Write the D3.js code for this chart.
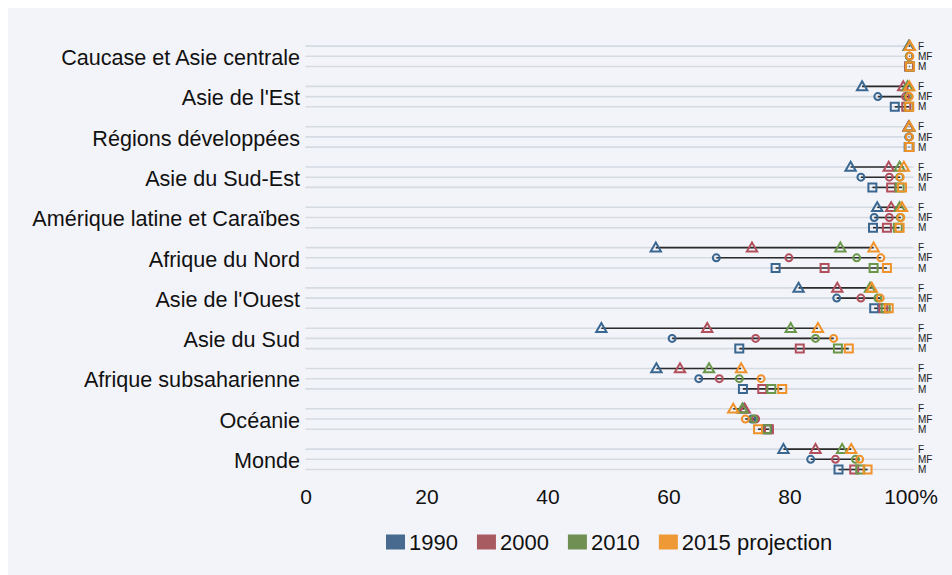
<!DOCTYPE html>
<html>
<head>
<meta charset="utf-8">
<script src="https://cdn.jsdelivr.net/npm/d3@7"></script>
<style>
  body { margin: 0; background: #fff; }
  svg { display: block; font-family: "Liberation Sans", Arial, sans-serif; }
</style>
</head>
<body>
<div id="chart"></div>
<script>
// regions, top to bottom
let regions = [
    "Caucase et Asie centrale",
    "Asie de l'Est",
    "Régions développées",
    "Asie du Sud-Est",
    "Amérique latine et Caraïbes",
    "Afrique du Nord",
    "Asie de l'Ouest",
    "Asie du Sud",
    "Afrique subsaharienne",
    "Océanie",
    "Monde"
]

let sexes = ["F", "MF", "M"]
let years = ["1990", "2000", "2010", "2015 projection"]

// values per region: [F, MF, M] in %
let v1990 = [
    [99.7, 99.8, 99.8], [92.0, 94.6, 97.4], [99.7, 99.7, 99.7], [90.1, 91.8, 93.7],
    [94.5, 94.0, 93.8], [57.9, 67.9, 77.7], [81.5, 87.8, 94.0], [48.9, 60.6, 71.7],
    [58.0, 65.0, 72.3], [72.3, 73.8, 76.3], [79.0, 83.5, 88.1]
]
let v2000 = [
    [99.8, 99.8, 99.8], [98.8, 99.2, 99.3], [99.7, 99.8, 99.8], [96.4, 96.5, 96.8],
    [96.8, 96.5, 96.1], [73.8, 79.9, 85.8], [87.9, 91.8, 95.5], [66.4, 74.4, 81.7],
    [61.9, 68.4, 75.5], [72.6, 74.4, 76.6], [84.3, 87.6, 90.7]
]
let v2010 = [
    [99.8, 99.8, 99.9], [99.5, 99.6, 99.7], [99.8, 99.8, 99.8], [98.2, 98.2, 98.2],
    [98.2, 98.3, 97.9], [88.4, 91.1, 93.9], [93.3, 94.6, 95.9], [80.2, 84.3, 88.0],
    [66.7, 71.7, 77.0], [72.2, 74.1, 76.2], [88.7, 90.9, 91.7]
]
let v2015 = [
    [99.9, 99.9, 99.9], [99.8, 99.8, 99.8], [99.8, 99.8, 99.8], [98.9, 98.3, 98.6],
    [98.6, 98.4, 98.2], [93.9, 95.1, 96.1], [93.6, 95.0, 96.4], [84.7, 87.3, 89.8],
    [72.0, 75.3, 78.8], [70.7, 72.7, 74.8], [90.2, 91.6, 92.9]
]

let tickValues = [0, 20, 40, 60, 80, 100]

let colors = ["#3a6791", "#b14f5c", "#6a9749", "#f0922a"]
let legendColors = ["#476a8e", "#a85c62", "#6f8f53", "#ee9935"]

let width = 952
let height = 575

let svg = d3.select("#chart").append("svg")
    .attr("width", width)
    .attr("height", height)

// panel background
svg.append("rect")
    .attr("x", 8).attr("y", 8)
    .attr("width", width - 8).attr("height", height - 8)
    .attr("fill", "#f3f4f9")

let xScale = d3.scaleLinear().domain([0, 100]).range([305.5, 910.5])
let yScale = d3.scalePoint().domain(regions).range([56.3, 459.3])
let rowOffset = d3.scaleOrdinal().domain(sexes).range([-10.2, 0, 10.2])

let allYears = [v1990, v2000, v2010, v2015]

// flat list of rows
let rows = []
regions.forEach((r, i) => {
    sexes.forEach((s, j) => {
        rows.push({
            region: r,
            sex: s,
            y: yScale(r) + rowOffset(s),
            values: allYears.map(v => v[i][j])
        })
    })
})

// gridlines
svg.append("g").selectAll("line")
    .data(rows)
    .join("line")
    .attr("x1", xScale(0))
    .attr("x2", xScale(100) + 3)
    .attr("y1", d => d.y)
    .attr("y2", d => d.y)
    .attr("stroke", "#d5dbe3")
    .attr("stroke-width", 1.6)

// range lines
svg.append("g").selectAll("line")
    .data(rows)
    .join("line")
    .attr("x1", d => xScale(d3.min(d.values)))
    .attr("x2", d => xScale(d3.max(d.values)))
    .attr("y1", d => d.y)
    .attr("y2", d => d.y)
    .attr("stroke", "#2b2b2b")
    .attr("stroke-width", 1.6)

// markers, one layer per year so later years sit on top
let shapes = {
    F: d3.symbol().type(d3.symbolTriangle).size(46),
    MF: d3.symbol().type(d3.symbolCircle).size(38),
    M: d3.symbol().type(d3.symbolSquare).size(64)
}

years.forEach((year, k) => {
    svg.append("g").selectAll("path")
        .data(rows)
        .join("path")
        .attr("d", d => shapes[d.sex]())
        .attr("transform", d => `translate(${xScale(d.values[k])},${d.y + (d.sex === "F" ? 0.8 : 0)})`)
        .attr("fill", "none")
        .attr("stroke", colors[k])
        .attr("stroke-width", 2)
})

// sex labels on the right
svg.append("g").selectAll("text")
    .data(rows)
    .join("text")
    .attr("x", 918)
    .attr("y", d => d.y)
    .attr("dy", "0.36em")
    .attr("font-size", 10)
    .attr("fill", "#222")
    .text(d => d.sex)

// region labels
svg.append("g").selectAll("text")
    .data(regions)
    .join("text")
    .attr("x", 300)
    .attr("y", d => yScale(d) + 1)
    .attr("dy", "0.36em")
    .attr("text-anchor", "end")
    .attr("font-size", 21.6)
    .attr("fill", "#111")
    .text(d => d)

// x axis
let xAxis = svg.append("g")
    .attr("transform", "translate(0,478)")
    .call(d3.axisBottom(xScale)
        .tickValues(tickValues)
        .tickSize(0)
        .tickPadding(11)
        .tickFormat(d => d === 100 ? "100%" : d))
xAxis.select(".domain").remove()
xAxis.selectAll("text")
    .attr("font-size", 21)
    .attr("font-family", "Liberation Sans, Arial, sans-serif")
    .attr("fill", "#111")

// legend
let legend = svg.append("g").attr("transform", "translate(386,542)")
let lx = 0
years.forEach((year, k) => {
    let item = legend.append("g").attr("transform", `translate(${lx},0)`)
    item.append("rect")
        .attr("x", 0).attr("y", -7.5)
        .attr("width", 19).attr("height", 15)
        .attr("fill", legendColors[k])
    let t = item.append("text")
        .attr("x", 23)
        .attr("dy", "0.36em")
        .attr("font-size", 22)
        .attr("fill", "#111")
        .text(year)
    lx += 23 + t.node().getComputedTextLength() + 19
})
</script>
</body>
</html>
